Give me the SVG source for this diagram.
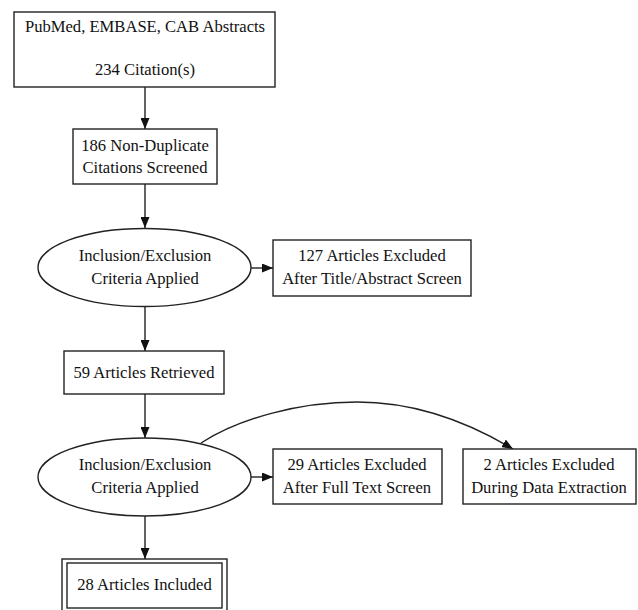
<svg xmlns="http://www.w3.org/2000/svg" width="638" height="610" viewBox="0 0 638 610">
<style>
.n{fill:#fff;stroke:#222;stroke-width:1.4}
.t{font-family:"Liberation Serif","Times New Roman",serif;font-size:16.6px;fill:#111;text-anchor:middle}
.e{fill:none;stroke:#222;stroke-width:1.4}
</style>
<defs>
<marker id="ah" viewBox="0 0 11 9" refX="11" refY="4.5" markerWidth="11" markerHeight="9" markerUnits="userSpaceOnUse" orient="auto">
<path d="M0,0 L11,4.5 L0,9 Z" fill="#111"/>
</marker>
</defs>
<rect width="638" height="610" fill="#fff"/>
<g id="edges">
<line class="e" x1="145" y1="87" x2="145" y2="129" marker-end="url(#ah)"/>
<line class="e" x1="145" y1="184" x2="145" y2="228" marker-end="url(#ah)"/>
<line class="e" x1="251" y1="268" x2="273" y2="268" marker-end="url(#ah)"/>
<line class="e" x1="145" y1="306" x2="145" y2="351" marker-end="url(#ah)"/>
<line class="e" x1="145" y1="394" x2="145" y2="438" marker-end="url(#ah)"/>
<line class="e" x1="251" y1="477" x2="273" y2="477" marker-end="url(#ah)"/>
<path class="e" d="M201,443 C240,418 300,402 357,402 C415,402 468,422 513,449" marker-end="url(#ah)"/>
<line class="e" x1="145" y1="516" x2="145" y2="559" marker-end="url(#ah)"/>
</g>
<g id="n1">
<rect class="n" x="14" y="12" width="261" height="75"/>
<text class="t" x="145" y="32">PubMed, EMBASE, CAB Abstracts</text>
<text class="t" x="145" y="75">234 Citation(s)</text>
</g>
<g id="n2">
<rect class="n" x="73" y="129" width="144" height="55"/>
<text class="t" x="145" y="151">186 Non-Duplicate</text>
<text class="t" x="145" y="173">Citations Screened</text>
</g>
<g id="n3">
<ellipse class="n" cx="144.5" cy="267.5" rx="106.5" ry="39"/>
<text class="t" x="145" y="261">Inclusion/Exclusion</text>
<text class="t" x="145" y="284">Criteria Applied</text>
</g>
<g id="n4">
<rect class="n" x="273" y="240" width="198" height="56"/>
<text class="t" x="372" y="261">127 Articles Excluded</text>
<text class="t" x="372" y="284">After Title/Abstract Screen</text>
</g>
<g id="n5">
<rect class="n" x="64" y="351" width="160" height="43"/>
<text class="t" x="144" y="378">59 Articles Retrieved</text>
</g>
<g id="n6">
<ellipse class="n" cx="144.5" cy="477" rx="106.5" ry="39"/>
<text class="t" x="145" y="470">Inclusion/Exclusion</text>
<text class="t" x="145" y="493">Criteria Applied</text>
</g>
<g id="n7">
<rect class="n" x="273" y="449" width="169" height="55"/>
<text class="t" x="357" y="470">29 Articles Excluded</text>
<text class="t" x="357" y="493">After Full Text Screen</text>
</g>
<g id="n8">
<rect class="n" x="463" y="449" width="173" height="55"/>
<text class="t" x="549" y="470">2 Articles Excluded</text>
<text class="t" x="549" y="493">During Data Extraction</text>
</g>
<g id="n9">
<rect class="n" x="62" y="559" width="165" height="54"/>
<rect class="n" x="67" y="563" width="155" height="45"/>
<text class="t" x="144.5" y="590">28 Articles Included</text>
</g>
</svg>
